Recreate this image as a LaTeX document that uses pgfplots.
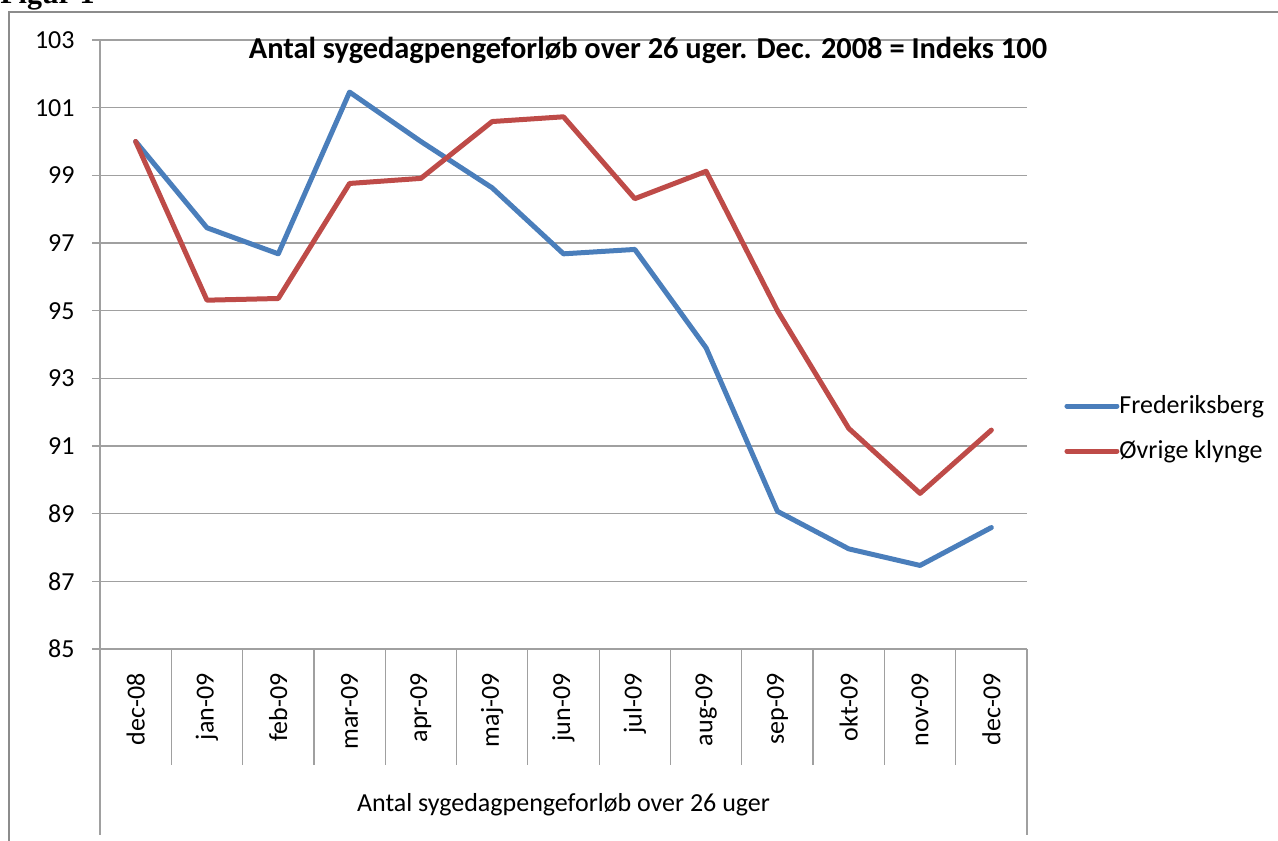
\documentclass[border=0pt]{standalone}
\usepackage{fontspec}
\setmainfont{Carlito}
\newfontfamily\seriffont{Liberation Serif}
\usepackage{pgfplots}
\pgfplotsset{compat=1.18}
\definecolor{fblue}{HTML}{4A7EBB}
\definecolor{ored}{HTML}{BE4B48}
\definecolor{gridgray}{HTML}{A0A0A0}
\definecolor{framegray}{HTML}{8C8C8C}
\pgfplotstableread{
x fred oevr
0  100.00 100.00
1  97.45  95.31
2  96.68  95.36
3  101.46 98.76
4  100.00 98.91
5  98.63  100.59
6  96.68  100.73
7  96.81  98.31
8  93.90  99.12
9  89.07  95.00
10 87.96  91.52
11 87.47  89.60
12 88.59  91.47
}\datatable
\begin{document}
\begin{tikzpicture}
\path[use as bounding box, clip] (0pt,0pt) rectangle (639pt,-420pt);
\node[anchor=base west, font=\seriffont\bfseries\fontsize{15}{15}\selectfont, inner sep=0pt] at (0pt,-2pt) {Figur 1};
\draw[framegray, line width=1pt] (4.5pt,-425pt) -- (4.5pt,-6pt) -- (645pt,-6pt);
\begin{axis}[
  at={(50pt,-324.5pt)}, anchor=south west,
  scale only axis, width=463.5pt, height=304.5pt,
  xmin=-0.5, xmax=12.5, ymin=85, ymax=103,
  axis x line=bottom, axis y line=left,
  axis line style={gridgray, line width=0.6pt, -},
  xtick={0,...,12},
  xticklabels={dec-08,jan-09,feb-09,mar-09,apr-09,maj-09,jun-09,jul-09,aug-09,sep-09,okt-09,nov-09,dec-09},
  major x tick style={draw=none},
  ytick={85,87,...,103},
  ymajorgrids, grid style={gridgray, line width=0.6pt},
  tick style={gridgray, line width=0.6pt},
  tick align=outside, major tick length=4pt,
  /pgf/number format/assume math mode=true,
  ticklabel style={font=\fontsize{13}{13}\selectfont, text=black},
  yticklabel style={anchor=east, inner sep=0pt, xshift=-8.5pt},
  xticklabel style={yshift=-8pt, rotate=90, anchor=east, inner sep=0pt},
  clip=false,
  legend style={at={(1.0335,0.362)}, anchor=west, draw=none, fill=none,
    font=\fontsize{13}{13}\selectfont, row sep=10pt,
    nodes={inner xsep=0pt, inner ysep=1pt}},
  legend cell align=left,
  legend image code/.code={\draw[#1, line width=2.5pt, line cap=round] (0pt,0pt) -- (25pt,0pt);},
]
\addplot[fblue, line width=2.5pt, line join=round, line cap=round] table[x=x, y=fred] {\datatable};
\addlegendentry{Frederiksberg}
\addplot[ored, line width=2.5pt, line join=round, line cap=round] table[x=x, y=oevr] {\datatable};
\addlegendentry{Øvrige klynge}
\foreach \k in {0.5,1.5,...,11.5} {
  \edef\temp{\noexpand\draw[gridgray, line width=0.6pt] (axis cs:\k,85) -- ++(0pt,-58pt);}
  \temp
}
\draw[gridgray, line width=0.6pt] (axis cs:-0.5,85) -- ++(0pt,-93pt);
\draw[gridgray, line width=0.6pt] (axis cs:12.5,85) -- ++(0pt,-93pt);
\end{axis}
\node[font=\bfseries\fontsize{15.2}{15.2}\selectfont] at (324pt,-25pt) {Antal sygedagpengeforløb over 26 uger. Dec. 2008 = Indeks 100};
\node[font=\fontsize{13}{13}\selectfont] at (281.75pt,-402.5pt) {Antal sygedagpengeforløb over 26 uger};
\end{tikzpicture}
\end{document}
